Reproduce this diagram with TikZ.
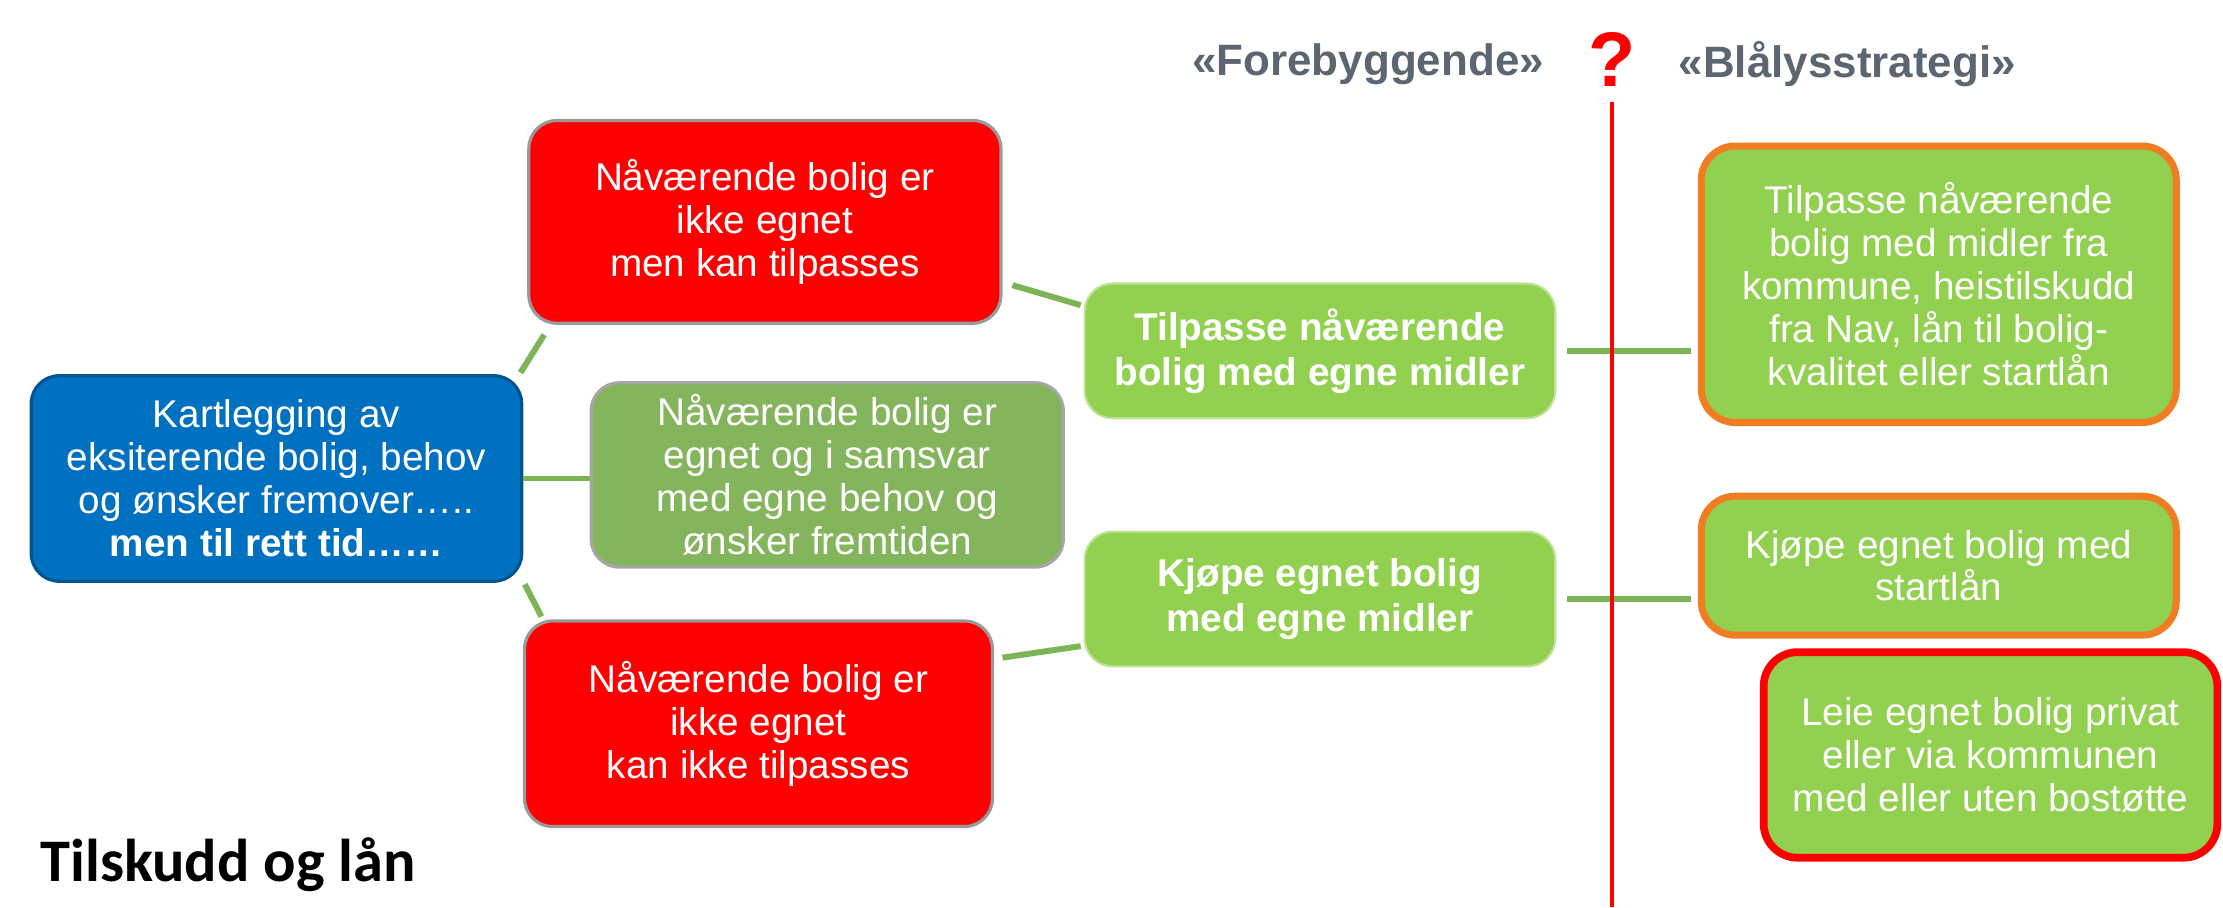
\documentclass[tikz,border=0pt]{standalone}
\usepackage{fontspec}
\setmainfont{Liberation Sans}
\newfontfamily\calibfont{Carlito}
\usetikzlibrary{calc}
\definecolor{cblue}{HTML}{0070C0}
\definecolor{cred}{HTML}{FF0000}
\definecolor{cmid}{HTML}{84B55C}
\definecolor{clight}{HTML}{92D050}
\definecolor{corange}{HTML}{F07D22}
\definecolor{clink}{HTML}{7DB456}
\definecolor{cgray}{HTML}{5B6670}
\newcommand\bxu{0.014177cm}
\begin{document}
\begin{tikzpicture}[x=0.014177cm,y=-0.014177cm,
  bxbase/.style={rounded corners=0.28cm, align=center, inner sep=0pt, text=white,
    font=\fontsize{11}{12.2}\selectfont},
  bxblue/.style={bxbase, fill=cblue, draw=cblue!75!black, line width=0.9pt},
  bxred/.style={bxbase, fill=cred, draw=black!40, line width=0.9pt},
  bxmid/.style={bxbase, fill=cmid, draw=black!35, line width=0.9pt},
  bxlight/.style={bxbase, fill=clight, draw=clight!60!white, line width=0.6pt,
    font=\bfseries\fontsize{11}{12.8}\selectfont},
  bxorange/.style={bxbase, fill=clight, draw=corange, line width=2pt, rounded corners=0.34cm},
  bxredline/.style={bxbase, fill=clight, draw=cred, line width=2.2pt, rounded corners=0.34cm},
  link/.style={draw=clink, line width=1.7pt},
  toplabel/.style={text=cgray, font=\bfseries\fontsize{12.5}{14}\selectfont, inner sep=0pt}
]
\useasboundingbox (0,0) rectangle (1568,640);

% top labels
\node[toplabel] (fore) at (965,45) {«Forebyggende»};
\node[toplabel] (blaa) at (1303,45) {«Blålysstrategi»};
\node[text=cred, font=\bfseries\fontsize{22}{24}\selectfont, inner sep=0pt] (q) at (1137,42) {?};
\coordinate (ltop) at (1137,72);
\coordinate (lbot) at (1137,640);

% boxes
\node[bxblue, minimum width=346*\bxu, minimum height=145*\bxu] (blue) at (195,337.5)
  {Kartlegging av\\eksiterende bolig, behov\\og ønsker fremover…..\\\textbf{men til rett tid……}};
\node[bxred, minimum width=333*\bxu, minimum height=143*\bxu] (redtop) at (539.5,156.5)
  {Nåværende bolig er\\ikke egnet\\men kan tilpasses};
\node[bxmid, minimum width=333*\bxu, minimum height=130*\bxu] (mid) at (583.5,335)
  {Nåværende bolig er\\egnet og i samsvar\\med egne behov og\\ønsker fremtiden};
\node[bxred, minimum width=330*\bxu, minimum height=145*\bxu] (redbot) at (535,510.5)
  {Nåværende bolig er\\ikke egnet\\kan ikke tilpasses};
\node[bxlight, minimum width=332*\bxu, minimum height=95*\bxu] (tilp) at (931,247.5)
  {Tilpasse nåværende\\bolig med egne midler};
\node[bxlight, minimum width=332*\bxu, minimum height=95*\bxu] (kjop) at (931,422.5)
  {Kjøpe egnet bolig\\med egne midler};
\node[bxorange, minimum width=335*\bxu, minimum height=195*\bxu] (rt) at (1367.5,200.5)
  {Tilpasse nåværende\\bolig med midler fra\\kommune, heistilskudd\\fra Nav, lån til bolig-\\kvalitet eller startlån};
\node[bxorange, minimum width=335*\bxu, minimum height=98*\bxu] (rm) at (1367.5,399)
  {Kjøpe egnet bolig med\\startlån};
\node[bxredline, minimum width=320*\bxu, minimum height=145*\bxu] (rb) at (1404,532.5)
  {Leie egnet bolig privat\\eller via kommunen\\med eller uten bostøtte};

% connectors
\draw[link] ($(blue.north east)+(-2,-1)$) -- ($(redtop.south west)+(12,7)$);
\draw[link] (blue.east) -- (blue.east -| mid.west);
\draw[link] ($(blue.south east)+(1,1)$) -- ($(redbot.north west)+(13,-2)$);
\draw[link] ($(redtop.south east)+(7,-28)$) -- ($(tilp.north west)+(-2,16)$);
\draw[link] ($(redbot.north east)+(6,27)$) -- ($(kjop.south west)+(-2,-15)$);
\draw[link, shorten <=3pt, shorten >=2pt] (tilp.east) -- (tilp.east -| rt.west);
\draw[link, shorten <=3pt, shorten >=2pt] (kjop.east) -- (kjop.east -| rm.west);

% divider
\draw[cred, line width=1.1pt] (ltop) -- (lbot);

% footer
\node[anchor=base west, inner sep=0pt, font=\calibfont\bfseries\fontsize{17.2}{19}\selectfont] (foot) at (28,622) {Tilskudd og lån};
\end{tikzpicture}
\end{document}
